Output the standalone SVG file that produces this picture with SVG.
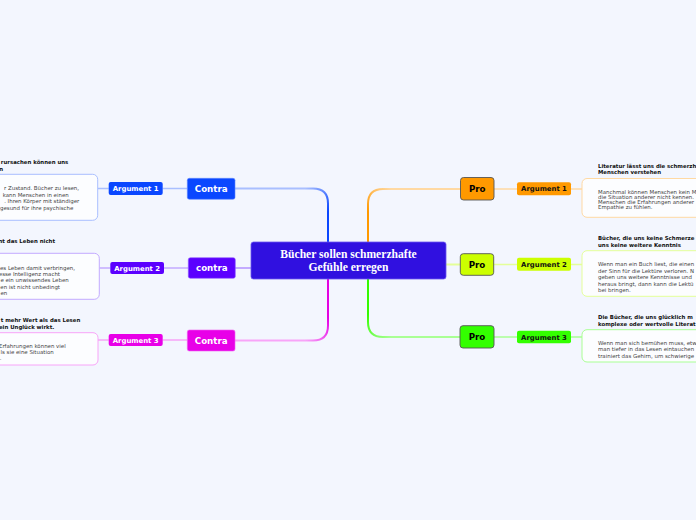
<svg xmlns="http://www.w3.org/2000/svg" width="696" height="520" viewBox="0 0 696 520">
<style>
.sans{font-family:"DejaVu Sans",Verdana,sans-serif}
.lbl{font-family:"DejaVu Sans",Verdana,sans-serif;font-weight:bold;text-anchor:middle}
.ttl{font-family:"DejaVu Sans",Verdana,sans-serif;font-weight:bold;font-size:5.4px;fill:#111}
.bdy{font-family:"DejaVu Sans",Verdana,sans-serif;font-size:5.45px;fill:#444}
.end{text-anchor:end}
.box{fill:#fcfdff;stroke-width:1}
.conn{fill:none;stroke-width:2}
.thin{fill:none;stroke-width:1.5}
.ctr{font-family:"Liberation Serif","Times New Roman",serif;font-weight:bold;font-size:11.6px;fill:#fff;text-anchor:middle}
</style>
<defs>
<linearGradient id="gBlue" gradientUnits="userSpaceOnUse" x1="305" y1="189" x2="328" y2="212"><stop offset="0" stop-color="#a9bfff"/><stop offset="1" stop-color="#0a47ff"/></linearGradient>
<linearGradient id="gMag" gradientUnits="userSpaceOnUse" x1="305" y1="340" x2="328" y2="318"><stop offset="0" stop-color="#f8a4f8"/><stop offset="1" stop-color="#e600e6"/></linearGradient>
<linearGradient id="gOra" gradientUnits="userSpaceOnUse" x1="391" y1="189" x2="368" y2="212"><stop offset="0" stop-color="#ffd9a3"/><stop offset="1" stop-color="#ff9900"/></linearGradient>
<linearGradient id="gGrn" gradientUnits="userSpaceOnUse" x1="391" y1="337" x2="368" y2="314"><stop offset="0" stop-color="#a9ff94"/><stop offset="1" stop-color="#33ff00"/></linearGradient>
</defs>
<rect x="0" y="0" width="696" height="520" fill="#f3f6fe"/>

<g id="connectors">
<path class="conn" stroke="url(#gBlue)" d="M235,188.5 H313 Q328,188.5 328,203.5 V242"/>
<path class="conn" stroke="#c3abff" d="M235,268 H251"/>
<path class="conn" stroke="url(#gMag)" d="M235,340.5 H313 Q328,340.5 328,325.5 V279"/>
<path class="conn" stroke="url(#gOra)" d="M368,242 V204 Q368,189 383,189 H460.5"/>
<path class="conn" stroke="#e4ff99" d="M446,264.5 H460.3"/>
<path class="conn" stroke="url(#gGrn)" d="M368,279 V322 Q368,337 383,337 H460"/>
<path class="thin" stroke="#a9bfff" d="M97.7,188.5 H108.7 M162.7,188.5 H187"/>
<path class="thin" stroke="#c3abff" d="M99.3,268 H110.3 M164,268 H188"/>
<path class="thin" stroke="#f8a4f8" d="M98,340 H108.7 M162.7,340 H187"/>
<path class="thin" stroke="#ffd9a3" d="M494,189 H517 M571,189 H582"/>
<path class="thin" stroke="#e4ff99" d="M493.7,264.5 H517 M571,264.5 H582"/>
<path class="thin" stroke="#a9ff94" d="M494,337 H517 M571,337 H582"/>
</g>

<g id="center">
<rect x="251" y="242" width="195" height="37" rx="2.5" fill="#3010e0" stroke="#6a55f0" stroke-width="0.8"/>
<text class="ctr" x="348.5" y="258.3">Bücher sollen schmerzhafte</text>
<text class="ctr" x="348.5" y="271.3">Gefühle erregen</text>
</g>

<g id="contra1">
<rect x="187.3" y="178.3" width="47.7" height="21" rx="2" fill="#0a47ff" stroke="#5f86ff" stroke-width="0.6"/>
<text class="lbl" x="211.2" y="191.8" font-size="8.7" fill="#fff">Contra</text>
</g>
<g id="contra2">
<rect x="188.3" y="257.7" width="47" height="20.6" rx="2" fill="#5b00ff" stroke="#8f5bff" stroke-width="0.6"/>
<text class="lbl" x="211.8" y="271" font-size="8.7" fill="#fff">contra</text>
</g>
<g id="contra3">
<rect x="187.3" y="330" width="47.7" height="21" rx="2" fill="#e800e8" stroke="#f260f2" stroke-width="0.6"/>
<text class="lbl" x="211.2" y="343.5" font-size="8.7" fill="#fff">Contra</text>
</g>

<g id="l-arg1">
<rect x="108.7" y="182" width="54" height="13" rx="2" fill="#0a47ff"/>
<text class="lbl" x="135.7" y="191" font-size="6.9" fill="#fff">Argument 1</text>
</g>
<g id="l-arg2">
<rect x="110.3" y="262" width="53.7" height="12" rx="2" fill="#5b00ff"/>
<text class="lbl" x="137.2" y="270.5" font-size="6.9" fill="#fff">Argument 2</text>
</g>
<g id="l-arg3">
<rect x="108.7" y="334" width="54" height="12" rx="2" fill="#e800e8"/>
<text class="lbl" x="135.7" y="342.5" font-size="6.9" fill="#fff">Argument 3</text>
</g>

<g id="l-box1">
<text class="ttl end" x="68.3" y="163.6">rursachen können uns</text>
<text class="ttl end" x="3" y="170.8">n</text>
<rect class="box" x="-20" y="174.3" width="117.7" height="46" rx="5" stroke="#a9bfff"/>
<text class="bdy end" x="79" y="190.3">r Zustand. Bücher zu lesen,</text>
<text class="bdy end" x="68.7" y="196.8">kann Menschen in einen</text>
<text class="bdy end" x="79.3" y="203.3">. Ihren Körper mit ständiger</text>
<text class="bdy end" x="73.3" y="209.8">gesund für ihre psychische</text>
</g>
<g id="l-box2">
<text class="ttl end" x="55" y="243">nt das Leben nicht</text>
<rect class="box" x="-20" y="253.3" width="119.3" height="46" rx="5" stroke="#c3abff"/>
<text class="bdy end" x="75" y="269.6">es Leben damit verbringen,</text>
<text class="bdy end" x="60" y="275.9">esse Intelligenz macht</text>
<text class="bdy end" x="68.7" y="282.2">e ein unwissendes Leben</text>
<text class="bdy end" x="60" y="288.5">en ist nicht unbedingt</text>
<text class="bdy end" x="7.3" y="294.8">en</text>
</g>
<g id="l-box3">
<text class="ttl end" x="80.3" y="322">t mehr Wert als das Lesen</text>
<text class="ttl end" x="54.3" y="328.6">ein Unglück wirkt.</text>
<rect class="box" x="-20" y="332.7" width="118" height="32.3" rx="5" stroke="#f8a4f8"/>
<text class="bdy end" x="65.7" y="347.6">Erfahrungen können viel</text>
<text class="bdy end" x="53.7" y="354">ls sie eine Situation</text>
<text class="bdy end" x="1.5" y="360.4">.</text>
</g>

<g id="pro1">
<rect x="460.5" y="177.5" width="33.5" height="22.5" rx="3" fill="#ff9900" stroke="#555" stroke-width="0.9"/>
<text class="lbl" x="477.2" y="192" font-size="8.7" fill="#000">Pro</text>
</g>
<g id="pro2">
<rect x="460.3" y="253.7" width="33.4" height="21.6" rx="3" fill="#ccff00" stroke="#555" stroke-width="0.9"/>
<text class="lbl" x="477" y="267.7" font-size="8.7" fill="#000">Pro</text>
</g>
<g id="pro3">
<rect x="460" y="325.7" width="34" height="22.3" rx="3" fill="#33ff00" stroke="#555" stroke-width="0.9"/>
<text class="lbl" x="477" y="340" font-size="8.7" fill="#000">Pro</text>
</g>

<g id="r-arg1">
<rect x="517" y="182.3" width="54" height="13" rx="2" fill="#ff9900"/>
<text class="lbl" x="544" y="191.3" font-size="6.9" fill="#111">Argument 1</text>
</g>
<g id="r-arg2">
<rect x="517" y="257.7" width="54" height="13" rx="2" fill="#ccff00"/>
<text class="lbl" x="544" y="266.7" font-size="6.9" fill="#111">Argument 2</text>
</g>
<g id="r-arg3">
<rect x="517" y="330.7" width="54" height="12.5" rx="2" fill="#33ff00"/>
<text class="lbl" x="544" y="339.5" font-size="6.9" fill="#111">Argument 3</text>
</g>

<g id="r-box1">
<text class="ttl" x="598" y="167.5">Literatur lässt uns die schmerzh</text>
<text class="ttl" x="598" y="174">Menschen verstehen</text>
<rect class="box" x="582" y="178.5" width="130" height="38.8" rx="5" stroke="#ffd9a3"/>
<text class="bdy" x="598" y="194">Manchmal können Menschen kein M</text>
<text class="bdy" x="598" y="199">die Situation anderer nicht kennen.</text>
<text class="bdy" x="598" y="204">Menschen die Erfahrungen anderer</text>
<text class="bdy" x="598" y="209">Empathie zu fühlen.</text>
</g>
<g id="r-box2">
<text class="ttl" x="598" y="240">Bücher, die uns keine Schmerze</text>
<text class="ttl" x="598" y="246.5">uns keine weitere Kenntnis</text>
<rect class="box" x="582" y="250.7" width="130" height="45.6" rx="5" stroke="#e4ff99"/>
<text class="bdy" x="598" y="266">Wenn man ein Buch liest, die einen</text>
<text class="bdy" x="598" y="272.6">der Sinn für die Lektüre verloren. N</text>
<text class="bdy" x="598" y="279.2">geben uns weitere Kenntnisse und</text>
<text class="bdy" x="598" y="285.8">heraus bringt, dann kann die Lektü</text>
<text class="bdy" x="598" y="292">bei bringen.</text>
</g>
<g id="r-box3">
<text class="ttl" x="598" y="319">Die Bücher, die uns glücklich m</text>
<text class="ttl" x="598" y="325.6">komplexe oder wertvolle Literat</text>
<rect class="box" x="582" y="329.7" width="130" height="32.3" rx="5" stroke="#a9ff94"/>
<text class="bdy" x="598" y="344.6">Wenn man sich bemühen muss, etw</text>
<text class="bdy" x="598" y="351.2">man tiefer in das Lesen eintauchen</text>
<text class="bdy" x="598" y="357.8">trainiert das Gehirn, um schwierige</text>
</g>
</svg>
